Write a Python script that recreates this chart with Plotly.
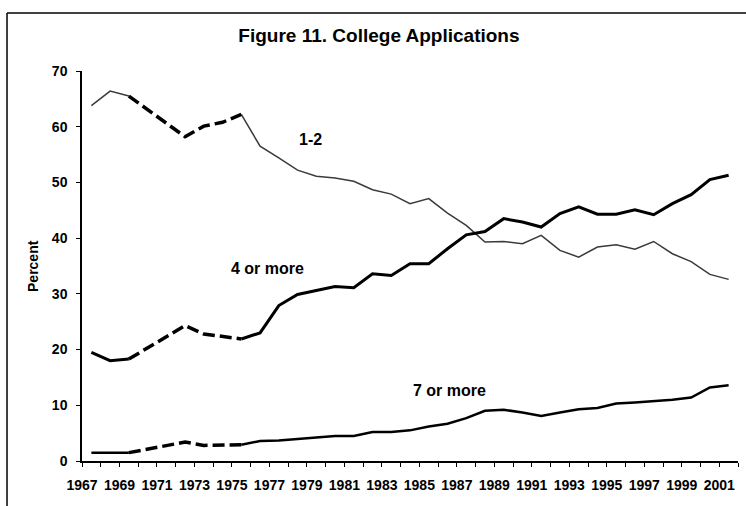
#!/usr/bin/env python3
# -*- coding: utf-8 -*-

import plotly.graph_objects as go

# Data (percent of students by number of college applications)
YEARS = list(range(1967, 2002))

ONE_TWO = [
    63.8, 66.4, 65.5, None, None, 58.2, 60.1, 60.8, 62.2, 56.5,
    54.4, 52.2, 51.1, 50.8, 50.2, 48.7, 47.9, 46.2, 47.1, 44.5,
    42.3, 39.3, 39.4, 39.0, 40.5, 37.8, 36.6, 38.4, 38.8, 38.0,
    39.4, 37.2, 35.8, 33.5, 32.6
]
FOUR_PLUS = [
    19.5, 18.0, 18.3, None, None, 24.3, 22.8, 22.4, 21.9, 23.0,
    27.9, 29.9, 30.6, 31.3, 31.1, 33.6, 33.3, 35.4, 35.4, 38.1,
    40.6, 41.2, 43.5, 42.9, 42.0, 44.4, 45.6, 44.3, 44.3, 45.1,
    44.2, 46.2, 47.8, 50.5, 51.3
]
SEVEN_PLUS = [
    1.5, 1.5, 1.5, None, None, 3.4, 2.8, 2.8, 2.9, 3.6,
    3.7, 3.9, 4.2, 4.5, 4.5, 5.2, 5.2, 5.5, 6.2, 6.7,
    7.7, 9.0, 9.2, 8.7, 8.1, 8.7, 9.3, 9.5, 10.3, 10.5,
    10.7, 11.0, 11.4, 13.2, 13.6
]

# years covered by the dashed (estimated) part of each line
DASHED_START = 1969
DASHED_END = 1975

TICK_YEARS = list(range(1967, 2003))
TICK_TEXT = [str(y) if y % 2 == 1 and y < 2002 else "" for y in TICK_YEARS]

FONT = "Liberation Sans, Arial, sans-serif"


def split_series(values):
    solid, dashed = [], []
    for year, v in zip(YEARS, values):
        solid.append(v if (year <= DASHED_START or year >= DASHED_END) else None)
        dashed.append(v if DASHED_START <= year <= DASHED_END else None)
    return solid, dashed


def add_series(fig, values, name, width, color):
    # points sit in the middle of each year interval
    xs = [y + 0.5 for y in YEARS]
    solid, dashed = split_series(values)
    fig.add_trace(
        go.Scatter(
            x=xs, y=solid, mode="lines", name=name,
            line={"color": color, "width": width},
            connectgaps=False, showlegend=False, hoverinfo="skip"
        )
    )
    fig.add_trace(
        go.Scatter(
            x=xs, y=dashed, mode="lines", name=name + " (est.)",
            line={"color": "black", "width": 3.5, "dash": "12px,5px"},
            connectgaps=True, showlegend=False, hoverinfo="skip"
        )
    )


fig = go.Figure()
add_series(fig, ONE_TWO, "1-2", 1.5, "#3a3a3a")
add_series(fig, FOUR_PLUS, "4 or more", 3, "black")
add_series(fig, SEVEN_PLUS, "7 or more", 2.5, "black")

# inline labels
for text, x, y in [("1-2", 1979.2, 57.7),
                   ("4 or more", 1976.9, 34.5),
                   ("7 or more", 1986.6, 12.6)]:
    fig.add_annotation(
        x=x, y=y, text=text, showarrow=False,
        font={"family": FONT, "size": 16, "color": "black", "weight": "bold"}
    )

# y axis title
fig.add_annotation(
    xref="paper", yref="paper", x=-0.0747, y=0.5, text="Percent",
    xanchor="center", yanchor="middle",
    textangle=-90, showarrow=False,
    font={"family": FONT, "size": 14, "color": "black", "weight": "bold"}
)

# frame lines (left and top)
fig.add_shape(type="line", xref="paper", yref="paper",
              x0=-0.1143, x1=-0.1143, y0=1.1487, y1=-0.2,
              line={"color": "black", "width": 1.5})
fig.add_shape(type="line", xref="paper", yref="paper",
              x0=-0.1143, x1=1.1, y0=1.1487, y1=1.1487,
              line={"color": "black", "width": 1.5})

fig.update_layout(
    width=746, height=506,
    margin={"l": 82, "r": 8, "t": 71, "b": 45},
    paper_bgcolor="white", plot_bgcolor="white",
    font={"family": FONT, "color": "black"},
    title={
        "text": "Figure 11. College Applications",
        "x": 0.508, "xref": "container", "xanchor": "center",
        "y": 1 - 35 / 506, "yref": "container", "yanchor": "middle",
        "font": {"family": FONT, "size": 19, "color": "black", "weight": "bold"}
    }
)
fig.update_xaxes(
    range=[1967, 2002], tickvals=TICK_YEARS, ticktext=TICK_TEXT,
    showgrid=False, zeroline=False, showline=True, linecolor="black",
    linewidth=1.5, ticks="outside", ticklen=4, tickcolor="black",
    tickfont={"family": FONT, "size": 14, "color": "black", "weight": "bold"},
    ticklabelstandoff=6
)
fig.update_yaxes(
    range=[0, 70], tickvals=[0, 10, 20, 30, 40, 50, 60, 70],
    showgrid=False, zeroline=False, showline=True, linecolor="black",
    linewidth=1.5, ticks="outside", ticklen=4, tickcolor="black",
    tickfont={"family": FONT, "size": 14, "color": "black", "weight": "bold"},
    ticklabelstandoff=6
)

# page body has a default margin; drop it so the figure fills the window
fig.write_html(
    "out.html",
    config={"displayModeBar": False},
    post_script="document.body.style.margin='0';"
                "document.body.style.overflow='hidden';"
)
